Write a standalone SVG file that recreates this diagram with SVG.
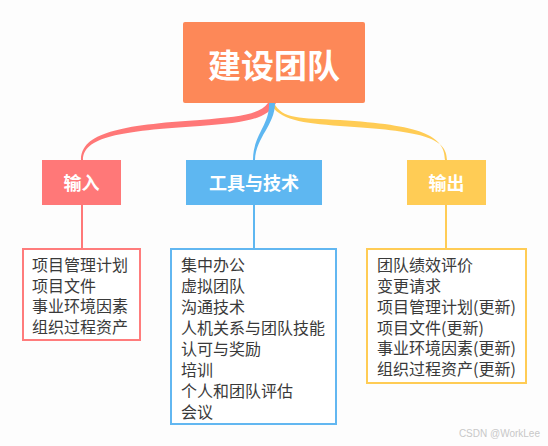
<svg xmlns="http://www.w3.org/2000/svg" width="548" height="446" viewBox="0 0 548 446">
<style>
text{font-family:"Noto Sans CJK SC","Noto Sans",sans-serif}
.cat{fill:#fff;font-weight:bold;font-size:18px;text-anchor:middle;dominant-baseline:central}
.item{fill:#3a3a3a;font-size:16px;dominant-baseline:central}
.list{fill:#fff;stroke-width:2}
</style>
<rect width="548" height="446" fill="#fdfdfd"/>
<g id="connectors">
<path d="M268,103 C259,115 238,117 200,120 C120,125 81,133 81,160 L83,160 C83,137 120,131 200,126 C242,123 267,120 276,103 Z" fill="#ff7878"/>
<path d="M274,103 C282,119 300,118 340,120 C420,125 445,135 445,160 L447,160 C447,137 420,131 340,126 C302,123 279,120 270,103 Z" fill="#ffcc55"/>
<path d="M269,103 C270,125 253,135 253,160 L255,160 C256,137 275,125 275,103 Z" fill="#5eb7f1"/>
<line x1="82" y1="205" x2="82" y2="249" stroke="#ff7878" stroke-width="2"/>
<line x1="254" y1="205" x2="254" y2="249" stroke="#5eb7f1" stroke-width="2"/>
<line x1="446" y1="205" x2="446" y2="249" stroke="#ffcc55" stroke-width="2"/>
</g>
<g id="root">
<rect x="183" y="22" width="182" height="81" rx="2" fill="#fd8858"/>
<text x="274" y="64" fill="#fff" font-weight="bold" font-size="33" text-anchor="middle" dominant-baseline="central">建设团队</text>
</g>
<g id="input">
<rect x="42" y="160" width="79" height="45" fill="#ff7878"/>
<text class="cat" x="81.5" y="182">输入</text>
</g>
<g id="tools">
<rect x="186" y="160" width="136" height="45" fill="#5eb7f1"/>
<text class="cat" x="254" y="182">工具与技术</text>
</g>
<g id="output">
<rect x="407" y="160" width="79" height="45" fill="#ffcc55"/>
<text class="cat" x="446.5" y="182">输出</text>
</g>
<g id="input-list">
<rect class="list" x="23" y="249" width="117" height="91" stroke="#ff7c7c"/>
<text class="item" x="32" y="264">项目管理计划</text>
<text class="item" x="32" y="284.5">项目文件</text>
<text class="item" x="32" y="305">事业环境因素</text>
<text class="item" x="32" y="325.5">组织过程资产</text>
</g>
<g id="tools-list">
<rect class="list" x="171" y="249" width="165" height="175" stroke="#62b7f1"/>
<text class="item" x="181" y="264">集中办公</text>
<text class="item" x="181" y="285">虚拟团队</text>
<text class="item" x="181" y="306">沟通技术</text>
<text class="item" x="181" y="327">人机关系与团队技能</text>
<text class="item" x="181" y="348">认可与奖励</text>
<text class="item" x="181" y="369">培训</text>
<text class="item" x="181" y="390">个人和团队评估</text>
<text class="item" x="181" y="411">会议</text>
</g>
<g id="output-list">
<rect class="list" x="367" y="249" width="159" height="134" stroke="#ffcc55"/>
<text class="item" x="377" y="264">团队绩效评价</text>
<text class="item" x="377" y="284.5">变更请求</text>
<text class="item" x="377" y="305.5">项目管理计划(更新)</text>
<text class="item" x="377" y="326.5">项目文件(更新)</text>
<text class="item" x="377" y="347">事业环境因素(更新)</text>
<text class="item" x="377" y="368">组织过程资产(更新)</text>
</g>
<text x="540" y="437" fill="#c8c8c8" font-size="10" text-anchor="end" style="font-family:'Liberation Sans',sans-serif">CSDN @WorkLee</text>
</svg>
